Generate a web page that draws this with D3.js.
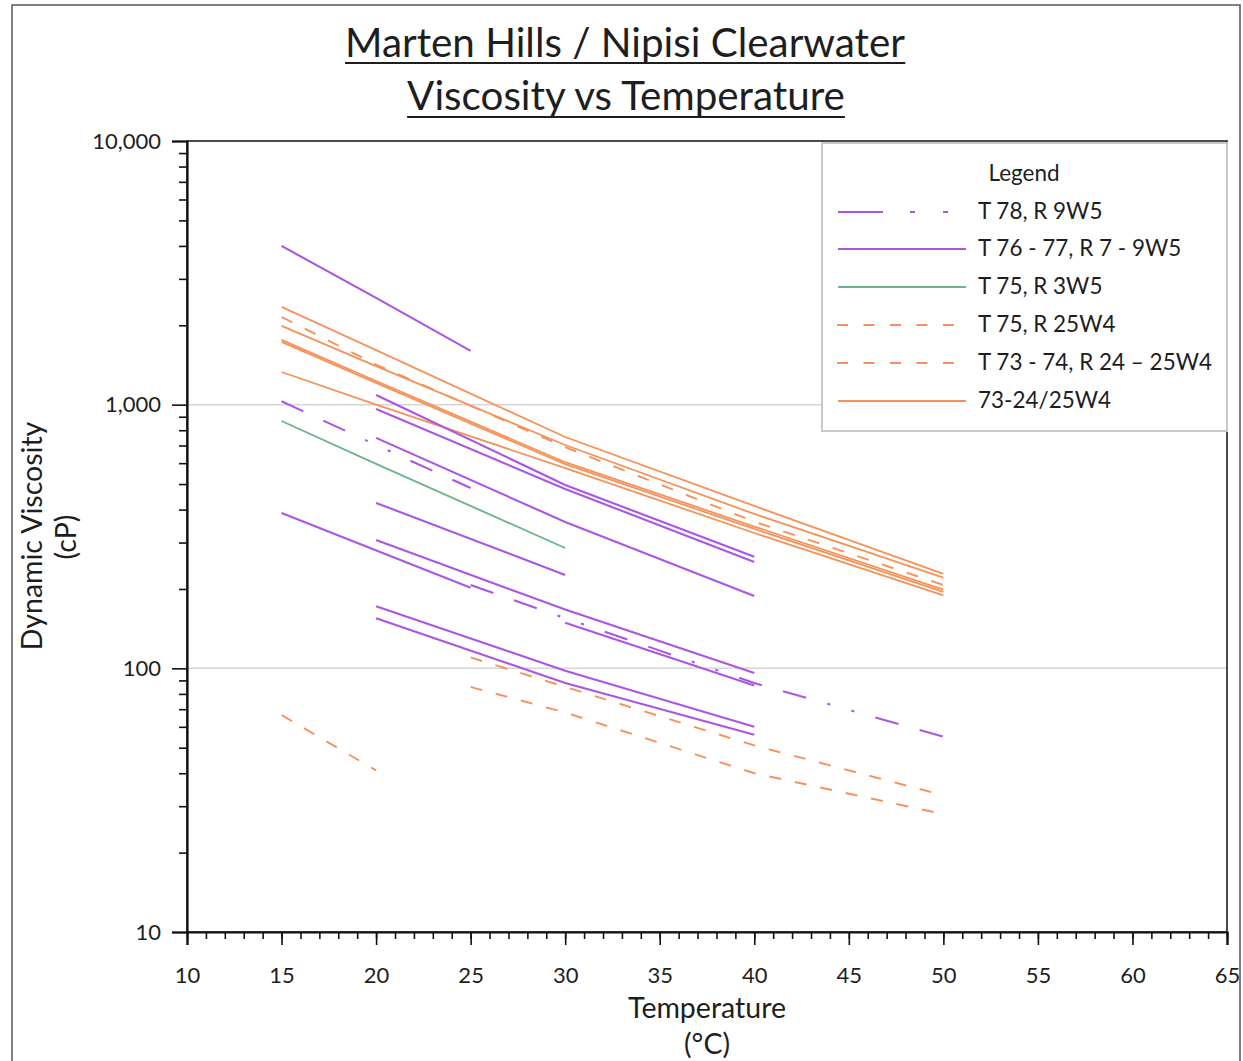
<!DOCTYPE html>
<html><head><meta charset="utf-8">
<script src="https://cdn.jsdelivr.net/npm/d3@7"></script>
<style>
body{margin:0;background:#fff;}
svg text{font-family:Lato,"Open Sans",sans-serif;fill:#1e1e1e;}
</style>
</head><body>
<svg id="c" width="1243" height="1061"></svg>
<script>
// ---------------- DATA ----------------
const titleLines = ["Marten Hills / Nipisi Clearwater", "Viscosity vs Temperature"];
const xTitle = ["Temperature", "(°C)"];
const yTitle = ["Dynamic Viscosity", "(cP)"];
const tempTicks = [10,15,20,25,30,35,40,45,50,55,60,65];
const viscTicks = [10,100,1000,10000];
const legendTitle = "Legend";
const legendLabels = ["T 78, R 9W5","T 76 - 77, R 7 - 9W5","T 75, R 3W5","T 75, R 25W4","T 73 - 74, R 24 – 25W4","73-24/25W4"];

// each line: [temperature °C, viscosity cP]
const t78Lines = [
  [[15,1030],[20,703],[25,483]],
  [[25,207],[30,155],[40,88],[50,55]]
];
const t7677Lines = [
  [[15,4000],[20,2540],[25,1600]],
  [[20,1088],[30,496],[40,265]],
  [[20,963],[30,479],[40,253]],
  [[20,748],[30,359],[40,188]],
  [[20,424],[30,226]],
  [[15,388],[25,202]],
  [[20,307],[30,167],[40,96]],
  [[30,149],[40,86]],
  [[20,172],[30,98],[40,60]],
  [[20,155],[30,88],[40,56]]
];
const t75r3Lines = [
  [[15,867],[20,596],[30,286]]
];
const t75r25Lines = [
  [[15,2150],[20,1420],[30,690],[40,360],[50,207]]
];
const t7374Lines = [
  [[25,110],[30,85],[40,51],[50,33]],
  [[25,85],[30,68],[40,40],[50,28]],
  [[15,66.5],[20,41]]
];
const t73Lines = [
  [[15,2350],[20,1610],[30,754],[40,413],[50,228]],
  [[15,1990],[20,1400],[30,703],[40,385],[50,221]],
  [[15,1760],[20,1230],[30,605],[40,345],[50,199]],
  [[15,1730],[20,1210],[30,595],[40,338],[50,195]],
  [[15,1330],[20,1000],[30,575],[40,326],[50,189]]
];

// ---------------- STYLES ----------------
const PURPLE = "#ab56e2", GREEN = "#6cb58c", ORANGE = "#f5925a";
const styles = [
  {lines:t78Lines,  color:PURPLE, w:2.1, dash:"24,22,24,22,3,22,3,22", legendDash:"45,27,5,28,5,40"},
  {lines:t7677Lines,color:PURPLE, w:2.1, dash:null, legendDash:null},
  {lines:t75r3Lines,color:GREEN,  w:1.9, dash:null, legendDash:null},
  {lines:t75r25Lines,color:ORANGE,w:1.9, dash:"12,14", legendDash:"11,15.5"},
  {lines:t7374Lines,color:ORANGE, w:1.9, dash:"12,14", legendDash:"11,15.5"},
  {lines:t73Lines,  color:ORANGE, w:1.8, dash:null, legendDash:null}
];

// ---------------- LAYOUT ----------------
const svg = d3.select("#c");
const X0=187, X1=1227, Y0=141, Y1=932;
const x = d3.scaleLinear().domain([10,65]).range([X0,X1]);
const y = d3.scaleLog().domain([10,10000]).range([Y1,Y0]);

function fit(sel, target){
  sel.style("font-size","20px");
  const w = sel.node().getComputedTextLength();
  const fs = 20*target/w;
  sel.style("font-size", fs+"px");
  return fs;
}

// outer frame
svg.append("rect").attr("x",12).attr("y",5).attr("width",1228).attr("height",1070)
  .attr("fill","none").attr("stroke","#555").attr("stroke-width",1.5);

// gridlines
svg.append("g").selectAll("line").data(viscTicks.filter(v=>v>10 && v<10000)).join("line")
  .attr("x1",X0).attr("x2",X1).attr("y1",d=>y(d)).attr("y2",d=>y(d))
  .attr("stroke","#d6d6d6").attr("stroke-width",1.5);

// series lines
const line = d3.line().x(d=>x(d[0])).y(d=>y(d[1]));
const order = [5,3,4,2,1,0];
order.forEach(i=>{
  const s = styles[i];
  svg.append("g").selectAll("path").data(s.lines).join("path")
    .attr("d", line).attr("fill","none").attr("stroke", s.color)
    .attr("stroke-width", s.w).attr("stroke-dasharray", s.dash)
    .attr("stroke-linecap","butt");
});

// plot border (top/right)
svg.append("rect").attr("x",X0).attr("y",Y0).attr("width",X1-X0).attr("height",Y1-Y0)
  .attr("fill","none").attr("stroke","#111").attr("stroke-width",1.5);

// axes
const minorX = d3.range(10,66,1);
const minorY = [];
[10,100,1000].forEach(b=>{ for(let m=2;m<=9;m++) minorY.push(b*m); });

const gxMinor = svg.append("g").attr("transform",`translate(0,${Y1})`)
  .call(d3.axisBottom(x).tickValues(minorX).tickSize(7).tickFormat(""));
const gx = svg.append("g").attr("transform",`translate(0,${Y1})`)
  .call(d3.axisBottom(x).tickValues(tempTicks).tickSize(13).tickPadding(22).tickFormat(d3.format("d")));
const gyMinor = svg.append("g").attr("transform",`translate(${X0},0)`)
  .call(d3.axisLeft(y).tickValues(minorY).tickSize(8).tickFormat(""));
const gy = svg.append("g").attr("transform",`translate(${X0},0)`)
  .call(d3.axisLeft(y).tickValues(viscTicks).tickSize(15).tickPadding(11).tickFormat(d3.format(",")));
[gxMinor,gyMinor].forEach(g=>g.select(".domain").remove());
[gx,gy,gxMinor,gyMinor].forEach(g=>{
  g.selectAll(".tick line").attr("stroke","#111").attr("stroke-width",1.6);
  g.select(".domain").attr("stroke","#111").attr("stroke-width",2.2);
});
svg.selectAll(".tick text").style("font-size","22px").style("font-family","Lato,'Open Sans',sans-serif").attr("fill","#1e1e1e");

// titles
const t1 = svg.append("text").attr("x",625).attr("y",57).attr("text-anchor","middle").text(titleLines[0]);
fit(t1,560);
const t2 = svg.append("text").attr("x",626).attr("y",110).attr("text-anchor","middle").text(titleLines[1]);
t2.style("font-size", t1.style("font-size"));
[[t1,63],[t2,117]].forEach(([t,uy])=>{
  const b = t.node().getBBox();
  svg.append("line").attr("x1",b.x).attr("x2",b.x+b.width).attr("y1",uy).attr("y2",uy)
    .attr("stroke","#1e1e1e").attr("stroke-width",2);
});

// axis titles
const xt1 = svg.append("text").attr("x",707).attr("y",1018).attr("text-anchor","middle").text(xTitle[0]);
const axFs = fit(xt1,158);
svg.append("text").attr("x",707).attr("y",1054).attr("text-anchor","middle").style("font-size",axFs+"px").text(xTitle[1]);
svg.append("text").attr("transform","translate(42,536) rotate(-90)").attr("text-anchor","middle").style("font-size",axFs+"px").text(yTitle[0]);
svg.append("text").attr("transform","translate(76,537) rotate(-90)").attr("text-anchor","middle").style("font-size",axFs+"px").text(yTitle[1]);

// legend
const lg = svg.append("g");
lg.append("rect").attr("x",822).attr("y",143).attr("width",405).attr("height",288)
  .attr("fill","#fff").attr("stroke","#c8c8c8").attr("stroke-width",2);
const rowY = [212,249,287,325,363,401];
const lt = lg.append("text").attr("x",1024).attr("y",181).attr("text-anchor","middle").text(legendTitle);
const items = lg.selectAll("g.item").data(legendLabels).join("g").attr("class","item");
items.append("line")
  .attr("x1",(d,i)=>styles[i].legendDash && styles[i].legendDash.startsWith("11")?837:838)
  .attr("x2",(d,i)=>styles[i].legendDash && styles[i].legendDash.startsWith("11")?956:966)
  .attr("y1",(d,i)=>rowY[i]).attr("y2",(d,i)=>rowY[i])
  .attr("stroke",(d,i)=>styles[i].color).attr("stroke-width",(d,i)=>styles[i].w)
  .attr("stroke-dasharray",(d,i)=>styles[i].legendDash);
const txts = items.append("text").attr("x",978).attr("y",(d,i)=>rowY[i]+7).text(d=>d);
const lgFs = fit(txts.filter((d,i)=>i===4), 234);
txts.style("font-size",lgFs+"px");
lt.style("font-size",lgFs+"px");
</script>
</body></html>
